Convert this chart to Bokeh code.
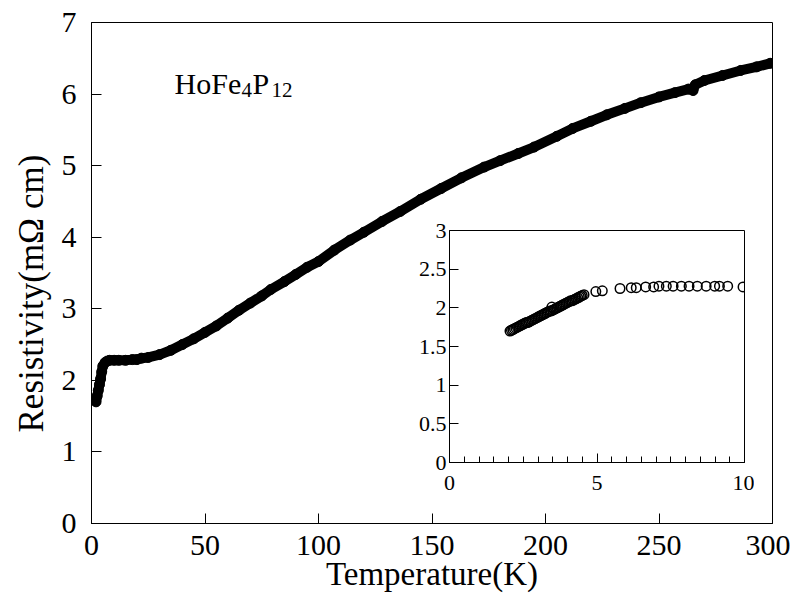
from bokeh.plotting import figure
from bokeh.models import FixedTicker, Range1d, Label, Title
from bokeh.embed import file_html
from bokeh.resources import INLINE
from jinja2 import Template

# ---- main curve data (T in K, resistivity in mOhm cm) ----
temp_main = [2.0, 2.5, 3.0, 3.5, 4.0, 4.5, 5.0, 6.0, 7.0, 8.0, 10, 12, 15, 18, 20,
             22, 25, 30, 35, 40, 45, 50, 55, 60, 65, 70, 75, 79, 85, 90, 95, 100,
             107, 114, 120, 128, 136, 145, 154, 163, 173, 180, 188, 195, 205, 212,
             220, 227, 235, 242, 250, 257, 263, 265, 266, 270, 278, 286, 293, 299]
rho_main = [1.70, 1.78, 1.86, 1.94, 2.02, 2.12, 2.20, 2.25, 2.27, 2.28, 2.28, 2.28, 2.28, 2.29, 2.29,
            2.31, 2.32, 2.36, 2.42, 2.50, 2.58, 2.67, 2.76, 2.87, 2.98, 3.08, 3.18, 3.27, 3.38, 3.48, 3.58, 3.66,
            3.82, 3.96, 4.07, 4.22, 4.36, 4.53, 4.68, 4.83, 4.98, 5.07, 5.17, 5.26, 5.41, 5.52,
            5.62, 5.71, 5.80, 5.88, 5.96, 6.02, 6.07, 6.05, 6.13, 6.19, 6.26, 6.33, 6.38, 6.43]

# ---- inset data (low temperature) ----
temp_inset = [2.05, 2.1, 2.15, 2.2, 2.25, 2.3, 2.35, 2.4, 2.45, 2.5, 2.55, 2.6, 2.65, 2.7, 2.75,
              2.8, 2.85, 2.9, 2.95, 3.0, 3.05, 3.1, 3.15, 3.2, 3.25, 3.3, 3.35, 3.4, 3.45, 3.5,
              3.55, 3.6, 3.65, 3.7, 3.75, 3.8, 3.85, 3.9, 3.95, 4.0, 4.05, 4.1, 4.15, 4.2, 4.25,
              4.3, 4.35, 4.4, 4.45, 4.5, 4.56, 3.47,
              4.96, 5.18, 5.78, 6.16, 6.33, 6.65, 6.92, 7.1, 7.35, 7.58, 7.86, 8.12, 8.4,
              8.7, 8.99, 9.15, 9.43, 9.95]
rho_inset = [1.70, 1.71, 1.72, 1.73, 1.74, 1.75, 1.76, 1.77, 1.78, 1.79, 1.80, 1.81, 1.81, 1.82, 1.83,
             1.84, 1.85, 1.86, 1.87, 1.88, 1.89, 1.90, 1.91, 1.92, 1.93, 1.94, 1.95, 1.96, 1.96, 1.97,
             1.98, 1.99, 2.00, 2.01, 2.02, 2.03, 2.04, 2.05, 2.06, 2.07, 2.08, 2.09, 2.09, 2.10, 2.11,
             2.12, 2.13, 2.14, 2.15, 2.16, 2.17, 2.01,
             2.21, 2.22, 2.25, 2.26, 2.26, 2.27, 2.27, 2.28, 2.28, 2.28, 2.28, 2.28, 2.28,
             2.28, 2.28, 2.28, 2.28, 2.27]

main_x_ticks = [0, 50, 100, 150, 200, 250, 300]
main_y_ticks = [0, 1, 2, 3, 4, 5, 6, 7]
inset_x_ticks = [0, 5, 10]
inset_x_minor = [0.5 * i for i in range(21)]
inset_y_ticks = [0, 0.5, 1, 1.5, 2, 2.5, 3]
inset_y_labels = ["0", "0.5", "1", "1.5", "2", "2.5", "3"]

FONT = "Liberation Serif"

# ---------------- main figure ----------------
p = figure(frame_width=681, frame_height=501,
           x_range=Range1d(0, 300), y_range=Range1d(0, 7),
           output_backend="svg", toolbar_location=None,
           min_border_left=91, min_border_right=18, min_border_top=22, min_border_bottom=72,
           name="main")
p.grid.visible = False
p.outline_line_color = "black"
p.outline_line_width = 1
p.background_fill_color = "white"
p.border_fill_color = "white"

p.xaxis.ticker = FixedTicker(ticks=main_x_ticks)
p.yaxis.ticker = FixedTicker(ticks=main_y_ticks)
for ax in (p.xaxis[0], p.yaxis[0]):
    ax.major_tick_in = 10
    ax.major_tick_out = 0
    ax.minor_tick_in = 0
    ax.minor_tick_out = 0
    ax.axis_line_color = "black"
    ax.major_tick_line_color = "black"
    ax.major_label_text_font = FONT
    ax.major_label_text_font_size = "30px"
    ax.major_label_text_color = "black"
    ax.axis_label_text_font = FONT
    ax.axis_label_text_font_style = "normal"
    ax.axis_label_text_color = "black"
p.xaxis.axis_label_text_font_size = "33px"
p.xaxis.major_label_standoff = 12
p.yaxis.major_label_standoff = 15
p.xaxis.axis_label = "Temperature(K)"
p.xaxis.axis_label_standoff = -2

# y-axis title, starting a little above the frame bottom as in the original
p.add_layout(Title(text="Resistivity(mΩ cm)", align="left", offset=91,
                   text_font=FONT, text_font_size="35px", text_font_style="normal",
                   text_color="black", standoff=16), "left")

p.line(temp_main, rho_main, line_width=10, line_color="black",
       line_join="round", line_cap="round")
p.scatter(temp_main, rho_main, size=10, fill_color="black", line_color="black")

# compound label with subscripts
lx, ly = 36.6, 6.15
p.add_layout(Label(x=lx, y=ly, text="HoFe", text_font=FONT, text_font_size="30px",
                   text_baseline="alphabetic", text_color="black"))
p.add_layout(Label(x=lx, y=ly, x_offset=67, y_offset=-7, text="4", text_font=FONT,
                   text_font_size="21px", text_baseline="alphabetic", text_color="black"))
p.add_layout(Label(x=lx, y=ly, x_offset=78, text="P", text_font=FONT, text_font_size="30px",
                   text_baseline="alphabetic", text_color="black"))
p.add_layout(Label(x=lx, y=ly, x_offset=97, y_offset=-7, text="12", text_font=FONT,
                   text_font_size="21px", text_baseline="alphabetic", text_color="black"))

# ---------------- inset figure ----------------
ins = figure(frame_width=295, frame_height=232,
             x_range=Range1d(0, 10), y_range=Range1d(0, 3),
             output_backend="svg", toolbar_location=None,
             min_border_left=40, min_border_right=10, min_border_top=15, min_border_bottom=35,
             name="inset")
ins.grid.visible = False
ins.outline_line_color = "black"
ins.outline_line_width = 1
ins.background_fill_color = "white"
ins.border_fill_color = "white"
ins.xaxis.ticker = FixedTicker(ticks=inset_x_ticks, minor_ticks=inset_x_minor)
ins.yaxis.ticker = FixedTicker(ticks=inset_y_ticks)
ins.yaxis.major_label_overrides = {t: l for t, l in zip(inset_y_ticks, inset_y_labels)}
for ax in (ins.xaxis[0], ins.yaxis[0]):
    ax.major_tick_in = 9
    ax.major_tick_out = 0
    ax.minor_tick_in = 0
    ax.minor_tick_out = 0
    ax.axis_line_color = "black"
    ax.major_tick_line_color = "black"
    ax.minor_tick_line_color = "black"
    ax.major_label_text_font = FONT
    ax.major_label_text_font_size = "22px"
    ax.major_label_text_color = "black"
ins.xaxis.minor_tick_in = 6
ins.xaxis.major_label_standoff = 13
ins.yaxis.major_label_standoff = 3

ins.scatter(temp_inset, rho_inset, size=9.5, fill_color=None, line_color="black", line_width=1.5)

template = Template("""{% from macros import embed %}{% extends base %}
{% block contents %}
<div style="position: relative;">
{{ embed(roots.main) }}
<div style="position: absolute; left: 409px; top: 215px;">
{{ embed(roots.inset) }}
</div>
</div>
{% endblock %}
""")

open("out.html", "w").write(file_html([p, ins], INLINE, template=template))
